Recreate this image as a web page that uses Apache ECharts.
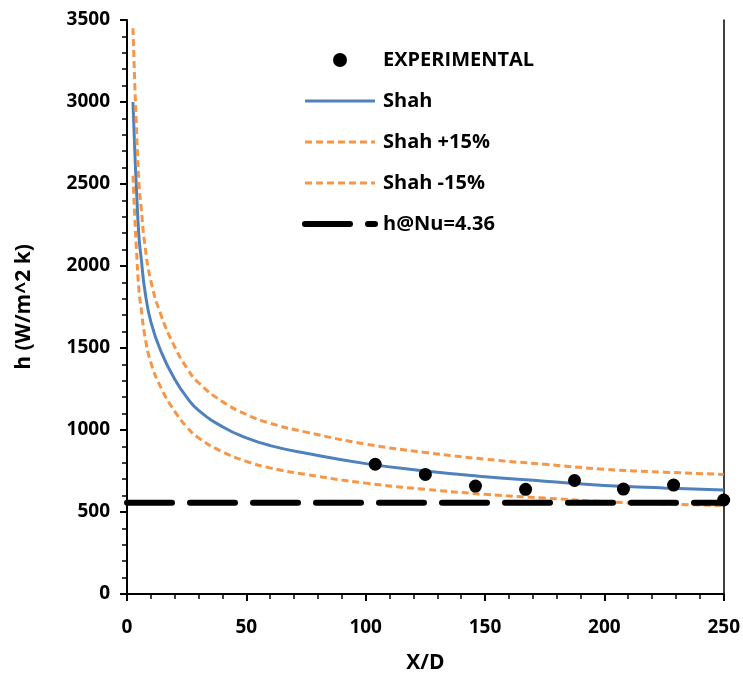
<!DOCTYPE html>
<html>
<head>
<meta charset="utf-8">
<script src="https://cdn.jsdelivr.net/npm/echarts@6/dist/echarts.min.js"></script>
<style>html,body{margin:0;padding:0;background:#fff}#c{width:743px;height:679px}</style>
</head>
<body>
<div id="c"></div>
<script>
// Experimental data
const expX = [104, 125, 146, 167, 187.5, 208, 229, 250];
const expH = [791, 729, 658, 638, 692, 640, 664, 573];
// Shah correlation curve
const shahX = [2.5, 3.3, 3.9, 5, 6, 7.4, 10, 14.5, 20, 25, 30, 40, 50, 60, 75, 100, 125, 150, 175, 200, 225, 250];
const shahH = [3000, 2690, 2490, 2180, 2040, 1860, 1660, 1470, 1310, 1200, 1120, 1020, 952, 905, 858, 795, 750, 715, 688, 662, 646, 634];
const shahPlus = [3450, 3094, 2864, 2507, 2346, 2139, 1909, 1691, 1507, 1380, 1288, 1173, 1095, 1041, 987, 914, 863, 822, 791, 761, 743, 729];
const shahMinus = [2550, 2287, 2117, 1853, 1734, 1581, 1411, 1250, 1114, 1020, 952, 867, 809, 769, 729, 676, 638, 608, 585, 563, 549, 539];
// Fully developed reference line
const refX = [0, 250];
const refH = [556, 556];
const xTicks = [0, 50, 100, 150, 200, 250];
const yTicks = [0, 500, 1000, 1500, 2000, 2500, 3000, 3500];

const zip = (a, b) => a.map((v, i) => [v, b[i]]);
const FONT = 'Open Sans';
const BLUE = '#4F81BD', ORANGE = '#F79646';
const hidden = { color: 'rgba(0,0,0,0)', borderWidth: 0, opacity: 0 };
const chart = echarts.init(document.getElementById('c'));
chart.setOption({
  animation: false,
  backgroundColor: '#fff',
  grid: { left: 127, right: 18, top: 20, bottom: 81, containLabel: false },
  legend: {
    orient: 'vertical', left: 297, top: 45, itemWidth: 70, itemHeight: 14, itemGap: 21,
    textStyle: { fontFamily: FONT, fontWeight: 'bold', fontSize: 20, color: '#000', lineHeight: 20, padding: [0, 0, 0, 3] },
    data: [
      { name: 'EXPERIMENTAL', itemStyle: { color: '#000', opacity: 1 } },
      { name: 'Shah', itemStyle: hidden, lineStyle: { color: BLUE, width: 3, type: 'solid' } },
      { name: 'Shah +15%', itemStyle: hidden, lineStyle: { color: ORANGE, width: 3, type: [7, 4] } },
      { name: 'Shah -15%', itemStyle: hidden, lineStyle: { color: ORANGE, width: 3, type: [7, 4] } },
      { name: 'h@Nu=4.36', itemStyle: hidden, lineStyle: { color: '#000', width: 6, type: [45, 18], cap: 'round' } }
    ]
  },
  xAxis: {
    type: 'value', min: xTicks[0], max: xTicks[xTicks.length - 1], interval: 50,
    name: 'X/D', nameLocation: 'middle', nameGap: 59,
    nameTextStyle: { fontFamily: FONT, fontWeight: 'bold', fontSize: 21, color: '#000' },
    axisLine: { show: true, onZero: false, lineStyle: { color: '#000', width: 2 } },
    axisTick: { show: true, length: 7, lineStyle: { color: '#000', width: 2 } },
    minorTick: { show: true, splitNumber: 5, length: 5, lineStyle: { color: '#000', width: 1.5 } },
    axisLabel: { fontFamily: FONT, fontWeight: 'bold', fontSize: 19, color: '#000', margin: 24, formatter: v => String(v) },
    splitLine: { show: false }
  },
  yAxis: [{
    type: 'value', min: yTicks[0], max: yTicks[yTicks.length - 1], interval: 500,
    name: 'h (W/m^2 k)', nameLocation: 'middle', nameGap: 92,
    nameTextStyle: { fontFamily: FONT, fontWeight: 'bold', fontSize: 21, color: '#000' },
    axisLine: { show: true, onZero: false, lineStyle: { color: '#000', width: 2 } },
    axisTick: { show: true, length: 7, lineStyle: { color: '#000', width: 2 } },
    minorTick: { show: true, splitNumber: 5, length: 5, lineStyle: { color: '#000', width: 1.5 } },
    axisLabel: { fontFamily: FONT, fontWeight: 'bold', fontSize: 19, color: '#000', margin: 17, formatter: v => String(v) },
    splitLine: { show: false }
  }, {
    type: 'value', position: 'right', min: yTicks[0], max: yTicks[yTicks.length - 1], interval: 500,
    axisLine: { show: true, onZero: false, lineStyle: { color: '#000', width: 1.5 } },
    axisTick: { show: false }, axisLabel: { show: false }, splitLine: { show: false }
  }],
  series: [
    {
      name: 'EXPERIMENTAL', type: 'scatter', data: zip(expX, expH), symbol: 'circle', symbolSize: 13,
      itemStyle: { color: '#000', opacity: 1 }, z: 10
    },
    {
      name: 'Shah', type: 'line', data: zip(shahX, shahH), showSymbol: false, symbol: 'none',
      smooth: 0.5,
      lineStyle: { color: BLUE, width: 3 }, itemStyle: { color: BLUE }
    },
    {
      name: 'Shah +15%', type: 'line', data: zip(shahX, shahPlus), showSymbol: false, symbol: 'none',
      smooth: 0.5,
      lineStyle: { color: ORANGE, width: 3, type: [7, 4] }, itemStyle: { color: ORANGE }
    },
    {
      name: 'Shah -15%', type: 'line', data: zip(shahX, shahMinus), showSymbol: false, symbol: 'none',
      smooth: 0.5,
      lineStyle: { color: ORANGE, width: 3, type: [7, 4] }, itemStyle: { color: ORANGE }
    },
    {
      name: 'h@Nu=4.36', type: 'line', data: zip(refX, refH), showSymbol: false, symbol: 'none',
      lineStyle: { color: '#000', width: 6, type: [45, 18], cap: 'round' }, itemStyle: { color: '#000' }
    }
  ]
});
</script>
</body>
</html>
